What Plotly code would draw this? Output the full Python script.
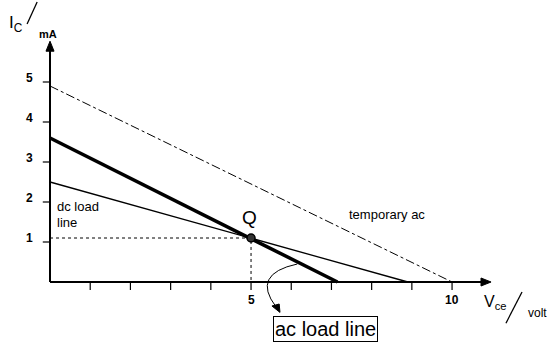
import plotly.graph_objects as go

# ---- data ----
x_ticks = [1, 2, 3, 4, 5, 6, 7, 8, 9, 10]
x_tick_labels = {5: "5", 10: "10"}
y_ticks = [1, 2, 3, 4, 5]
y_tick_labels = ["1", "2", "3", "4", "5"]

temp_ac_x = [0, 10]
temp_ac_y = [4.9, 0]
ac_load_x = [0, 7.15]
ac_load_y = [3.6, 0]
dc_load_x = [0, 5, 8.9]
dc_load_y = [2.5, 1.1, 0]
q_x = [5]
q_y = [1.1]

FONT = "Liberation Sans, Arial, sans-serif"

fig = go.Figure()

fig.add_trace(go.Scatter(x=temp_ac_x, y=temp_ac_y, mode="lines",
                         line=dict(color="black", width=1, dash="dashdot"),
                         hoverinfo="skip"))
fig.add_trace(go.Scatter(x=dc_load_x, y=dc_load_y, mode="lines",
                         line=dict(color="black", width=1.3),
                         hoverinfo="skip"))
fig.add_trace(go.Scatter(x=ac_load_x, y=ac_load_y, mode="lines",
                         line=dict(color="black", width=3.5),
                         hoverinfo="skip"))
# guides to Q
fig.add_trace(go.Scatter(x=[0, q_x[0], q_x[0]], y=[q_y[0], q_y[0], 0], mode="lines",
                         line=dict(color="black", width=1, dash="dot"),
                         hoverinfo="skip"))
fig.add_trace(go.Scatter(x=q_x, y=q_y, mode="markers",
                         marker=dict(size=8, color="#333333",
                                     line=dict(color="black", width=1.5)),
                         hoverinfo="skip"))

shapes = []
annotations = []

# axes lines with arrowheads
shapes.append(dict(type="line", xref="x", yref="y", x0=0, y0=0, x1=10.8, y1=0,
                   line=dict(color="black", width=2)))
shapes.append(dict(type="path", xref="x", yref="y",
                   path="M 10.97 0 L 10.72 0.1 L 10.72 -0.1 Z",
                   fillcolor="black", line=dict(color="black", width=1)))
shapes.append(dict(type="line", xref="x", yref="y", x0=0, y0=0, x1=0, y1=5.85,
                   line=dict(color="black", width=2)))
shapes.append(dict(type="path", xref="x", yref="y",
                   path="M 0 6.02 L -0.1 5.77 L 0.1 5.77 Z",
                   fillcolor="black", line=dict(color="black", width=1)))

# ticks
for t in x_ticks:
    shapes.append(dict(type="line", xref="x", yref="y", x0=t, x1=t, y0=0, y1=-0.2,
                       line=dict(color="black", width=1.2)))
    if t in x_tick_labels:
        annotations.append(dict(x=t, y=-0.45, xref="x", yref="y",
                                text="<b>" + x_tick_labels[t] + "</b>",
                                showarrow=False, font=dict(family=FONT, size=12, color="black"),
                                yanchor="middle"))
for t, lab in zip(y_ticks, y_tick_labels):
    shapes.append(dict(type="line", xref="x", yref="y", x0=-0.18, x1=0, y0=t, y1=t,
                       line=dict(color="black", width=1.2)))
    annotations.append(dict(x=-0.38, y=t + 0.1, xref="x", yref="y", text="<b>" + lab + "</b>",
                            showarrow=False, font=dict(family=FONT, size=12, color="black"),
                            xanchor="right", yanchor="middle"))

# labels
annotations.append(dict(x=4.95, y=1.62, xref="x", yref="y", text="Q", showarrow=False,
                        font=dict(family=FONT, size=19, color="black")))
annotations.append(dict(x=7.38, y=1.7, xref="x", yref="y", text="temporary ac", showarrow=False,
                        xanchor="left", font=dict(family=FONT, size=13, color="black")))
annotations.append(dict(x=0.12, y=1.88, xref="x", yref="y", text="dc load", showarrow=False,
                        xanchor="left", font=dict(family=FONT, size=13, color="black")))
annotations.append(dict(x=0.12, y=1.5, xref="x", yref="y", text="line", showarrow=False,
                        xanchor="left", font=dict(family=FONT, size=13, color="black")))
annotations.append(dict(x=6.84, y=-1.17, xref="x", yref="y", text="ac load line", showarrow=False,
                        bordercolor="black", borderwidth=1, borderpad=1, bgcolor="white",
                        font=dict(family=FONT, size=20, color="black")))

# curved arrow to the box
shapes.append(dict(type="path", xref="x", yref="y",
                   path="M 6.15 0.45 Q 5.0 0.2 5.62 -0.62",
                   line=dict(color="black", width=1)))
shapes.append(dict(type="path", xref="x", yref="y",
                   path="M 5.72 -0.76 L 5.52 -0.6 L 5.7 -0.55 Z",
                   fillcolor="black", line=dict(color="black", width=1)))

# axis titles
annotations.append(dict(x=-1.08, y=6.45, xref="x", yref="y", text="I<sub>C</sub>", showarrow=False,
                        xanchor="left", font=dict(family=FONT, size=17, color="black")))
shapes.append(dict(type="line", xref="x", yref="y", x0=-0.57, y0=6.45, x1=-0.32, y1=7.0,
                   line=dict(color="black", width=1.3)))
annotations.append(dict(x=-0.33, y=6.2, xref="x", yref="y", text="<b>mA</b>", showarrow=False,
                        xanchor="left", font=dict(family=FONT, size=11, color="black")))

annotations.append(dict(x=10.74, y=-0.5, xref="x", yref="y", text="V<sub>ce</sub>", showarrow=False,
                        xanchor="left", font=dict(family=FONT, size=16, color="black")))
shapes.append(dict(type="line", xref="x", yref="y", x0=11.34, y0=-1.03, x1=11.74, y1=-0.25,
                   line=dict(color="black", width=1.3)))
annotations.append(dict(x=11.85, y=-0.78, xref="x", yref="y", text="volt", showarrow=False,
                        xanchor="left", font=dict(family=FONT, size=12, color="black")))

fig.update_layout(
    width=557, height=353,
    margin=dict(l=0, r=0, t=0, b=0),
    paper_bgcolor="white", plot_bgcolor="white",
    showlegend=False,
    xaxis=dict(range=[-1.244, 12.61], visible=False, fixedrange=True),
    yaxis=dict(range=[-1.775, 7.05], visible=False, fixedrange=True),
    shapes=shapes, annotations=annotations,
)

fig.write_html("out.html")
